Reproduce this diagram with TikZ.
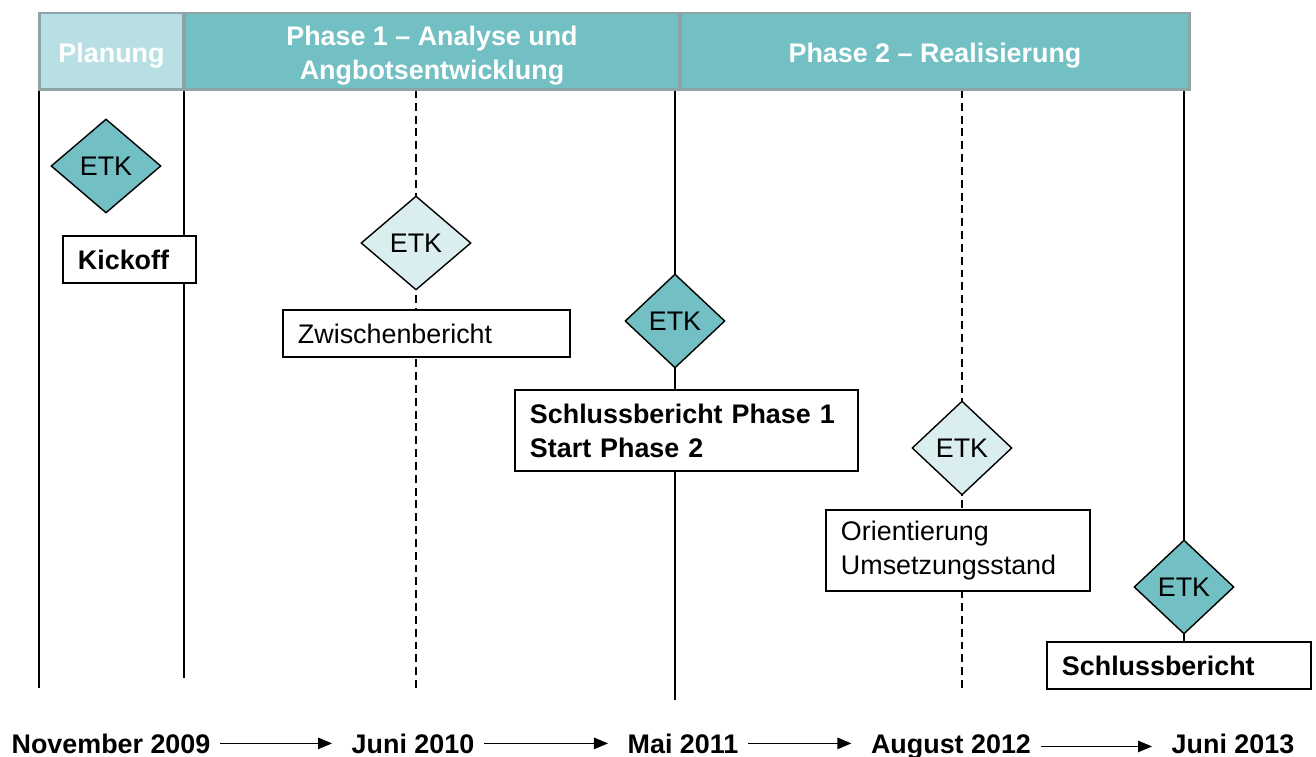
\documentclass[tikz,border=0pt]{standalone}
\usepackage{fontspec}
\setmainfont{Liberation Sans}
\usetikzlibrary{shapes.geometric,arrows.meta}

\definecolor{etkdark}{HTML}{72BFC4}
\definecolor{etklight}{HTML}{DAEEF0}
\definecolor{planfill}{HTML}{B8E0E4}
\definecolor{cellborder}{HTML}{8DA5A5}

\newcommand\chartfont{\fontsize{15.3}{19.3}\selectfont}

\tikzset{
  phasecell/.style={draw=cellborder, line width=1.7pt, minimum height=1.54cm, inner sep=0pt},
  phasetext/.style={text=white, font=\chartfont\bfseries, align=center, yshift=-0.08cm},
  etk/.style={diamond, draw, line width=0.8pt, inner sep=0pt, minimum height=1.88cm, font=\chartfont},
  milestone/.style={draw, fill=white, line width=1.1pt, anchor=north west, align=left, inner xsep=0.3cm, inner ysep=0pt, font=\chartfont},
  timeline/.style={line width=1.1pt},
  datelabel/.style={font=\chartfont\bfseries, anchor=base, inner sep=3pt},
  datearrow/.style={line width=0.85pt, shorten <=2.5pt, shorten >=8pt, -{Triangle[length=8pt,width=6.5pt]}},
}

\begin{document}
\begin{tikzpicture}[x=0.02cm,y=-0.02cm]
  \useasboundingbox (0,0) rectangle (1316,757);

  % Zeitlinien
  \coordinate (startTop) at (39,90);    \coordinate (startBot) at (39,688);
  \coordinate (planTop) at (184,90);    \coordinate (planBot) at (184,678);
  \coordinate (zwiTop) at (416,90);     \coordinate (zwiBot) at (416,690);
  \coordinate (phaseTop) at (675,90);   \coordinate (phaseBot) at (675,700);
  \coordinate (oriTop) at (962,90);     \coordinate (oriBot) at (962,690);
  \coordinate (endTop) at (1184,90);    \coordinate (endBot) at (1184,660);
  \draw[timeline] (startTop) -- (startBot);
  \draw[timeline] (planTop) -- (planBot);
  \draw[timeline, dash pattern=on 4.5pt off 2.8pt] (zwiTop) -- (zwiBot);
  \draw[timeline] (phaseTop) -- (phaseBot);
  \draw[timeline, dash pattern=on 4.5pt off 2.8pt] (oriTop) -- (oriBot);
  \draw[timeline] (endTop) -- (endBot);

  % Kopfzeile
  \node[phasecell, fill=planfill, minimum width=2.9cm,
        label={[phasetext]center:Planung}] (plan) at (111.5,51.5) {};
  \node[phasecell, fill=etkdark, minimum width=9.92cm,
        label={[phasetext]center:Phase 1 -- Analyse und\\Angbotsentwicklung}] (phaseA) at (432,51.5) {};
  \node[phasecell, fill=etkdark, minimum width=10.2cm,
        label={[phasetext]center:Phase 2 -- Realisierung}] (phaseB) at (935,51.5) {};

  % Meilensteine
  \node[etk, fill=etkdark, minimum width=2.2cm] (etkA) at (106,166) {ETK};
  \node[milestone, text width=2.06cm, minimum height=0.94cm] (kick) at (62,235) {\bfseries Kickoff};

  \node[etk, fill=etklight, minimum width=2.2cm] (etkB) at (416,243) {ETK};
  \node[milestone, text width=5.14cm, minimum height=0.94cm] (zwi) at (282,309) {Zwischenbericht};

  \node[etk, fill=etkdark, minimum width=2.0cm] (etkC) at (675,321) {ETK};
  \node[milestone, text width=6.26cm, minimum height=1.62cm, font=\chartfont\bfseries] (schlussA) at (514,389) {Schlussbericht Phase 1\\Start Phase 2};

  \node[etk, fill=etklight, minimum width=2.0cm] (etkD) at (962,448) {ETK};
  \node[milestone, text width=4.68cm, minimum height=1.62cm] (ori) at (825,509) {Orientierung\\Umsetzungsstand};

  \node[etk, fill=etkdark, minimum width=2.0cm] (etkE) at (1184,587) {ETK};
  \node[milestone, text width=4.68cm, minimum height=0.94cm] (schlussB) at (1046,641) {\bfseries Schlussbericht};

  % Daten
  \node[datelabel] (nov09) at (111,753) {November 2009};
  \node[datelabel] (jun10) at (413,753) {Juni 2010};
  \node[datelabel] (mai11) at (683,753) {Mai 2011};
  \node[datelabel] (aug12) at (951,753) {August 2012};
  \node[datelabel] (jun13) at (1233,753) {Juni 2013};
  \draw[datearrow] (nov09.east) -- (nov09.east -| jun10.west);
  \draw[datearrow] (jun10.east) -- (jun10.east -| mai11.west);
  \draw[datearrow] (mai11.east) -- (mai11.east -| aug12.west);
  \draw[datearrow] (aug12.east) -- (aug12.east -| jun13.west);
\end{tikzpicture}
\end{document}
